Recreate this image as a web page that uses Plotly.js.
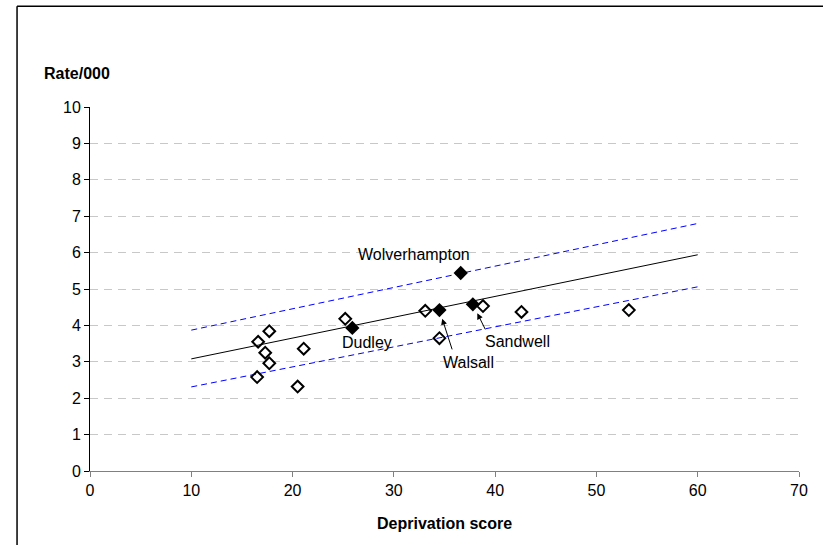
<!DOCTYPE html>
<html>
<head>
<meta charset="utf-8">
<script src="https://cdn.plot.ly/plotly-3.0.1.min.js"></script>
<style>html,body{margin:0;padding:0;background:#fff;}#chart{width:823px;height:545px;}</style>
</head>
<body>
<div id="chart"></div>
<script>
// Other areas (hollow diamonds)
const otherX = [16.6, 17.7, 17.3, 17.7, 16.5, 21.1, 20.5, 25.2, 33.1, 34.5, 38.8, 42.6, 53.2];
const otherY = [3.55, 3.84, 3.25, 2.96, 2.58, 3.36, 2.32, 4.18, 4.40, 3.65, 4.53, 4.37, 4.42];
// Black Country areas (filled diamonds)
const bcNames = ["Dudley", "Wolverhampton", "Walsall", "Sandwell"];
const bcX = [25.9, 36.6, 34.5, 37.8];
const bcY = [3.93, 5.44, 4.42, 4.58];
// Trend line and limits
const trendX = [10, 60];
const trendY = [3.08, 5.94];
const upperY = [3.87, 6.80];
const lowerY = [2.31, 5.06];

const FONT = "Liberation Sans, Arial, sans-serif";

const traces = [
  {x: trendX, y: upperY, mode: "lines", line: {color: "#0000ff", width: 1, dash: "6px,4px"}, hoverinfo: "skip"},
  {x: trendX, y: lowerY, mode: "lines", line: {color: "#0000ff", width: 1, dash: "6px,4px"}, hoverinfo: "skip"},
  {x: trendX, y: trendY, mode: "lines", line: {color: "#000000", width: 1}, hoverinfo: "skip"},
  {x: otherX, y: otherY, mode: "markers", marker: {symbol: "diamond-open", size: 9, color: "#000", line: {width: 2, color: "#000"}}},
  {x: bcX, y: bcY, mode: "markers", text: bcNames, marker: {symbol: "diamond", size: 11, color: "#000", line: {width: 0}}}
];

const annFont = {family: FONT, size: 16, color: "#000"};
const annotations = [
  {x: bcX[1], y: bcY[1], text: bcNames[1], showarrow: false, xref: "x", yref: "y", xshift: -47, yshift: 18, font: annFont},
  {x: bcX[0], y: bcY[0], text: bcNames[0], showarrow: false, xref: "x", yref: "y", xshift: 15, yshift: -15, font: annFont},
  {x: bcX[2], y: bcY[2], text: "", showarrow: true, arrowhead: 2, arrowsize: 1.2, arrowwidth: 1, arrowcolor: "#000",
   axref: "x", ayref: "y", ax: 35.8, ay: 3.3, standoff: 9, xref: "x", yref: "y"},
  {x: 35.8, y: 3.3, text: bcNames[2], showarrow: false, xref: "x", yref: "y", xanchor: "left", yanchor: "top", xshift: -12, yshift: -1, font: annFont},
  {x: bcX[3], y: bcY[3], text: "", showarrow: true, arrowhead: 2, arrowsize: 1.2, arrowwidth: 1, arrowcolor: "#000",
   axref: "x", ayref: "y", ax: 39.1, ay: 3.85, standoff: 10, xref: "x", yref: "y"},
  {x: 39.1, y: 3.85, text: bcNames[3], showarrow: false, xref: "x", yref: "y", xanchor: "left", yanchor: "top", xshift: -3, yshift: 0, font: annFont},
  {x: 0, y: 1, xref: "paper", yref: "paper", text: "<b>Rate/000</b>", showarrow: false, xanchor: "right", yanchor: "middle", xshift: 22, yshift: 34, font: {family: FONT, size: 16, color: "#000"}},
  {x: 0.5, y: -0.1429, xref: "paper", yref: "paper", text: "<b>Deprivation score</b>", showarrow: false, xanchor: "center", yanchor: "middle", font: {family: FONT, size: 16, color: "#000"}}
];

const layout = {
  width: 823, height: 545,
  margin: {l: 90, r: 24, t: 107, b: 74},
  paper_bgcolor: "#fff", plot_bgcolor: "#fff",
  showlegend: false,
  font: {family: FONT, size: 16, color: "#000"},
  xaxis: {
    range: [0, 70], dtick: 10, tick0: 0, showgrid: false, zeroline: false,
    showline: true, linecolor: "#808080", linewidth: 1,
    ticks: "outside", ticklen: 5, tickcolor: "#808080",
    tickfont: {family: FONT, size: 16, color: "#000"}
  },
  yaxis: {
    range: [0, 10], dtick: 1, tick0: 0, showgrid: true, gridcolor: "#c8c8c8", griddash: "8px,6px", gridwidth: 1,
    zeroline: false, showline: true, linecolor: "#000", linewidth: 1,
    ticks: "outside", ticklen: 5, tickcolor: "#000",
    tickfont: {family: FONT, size: 16, color: "#000"}
  },
  annotations: annotations,
  shapes: [
    {type: "line", xref: "paper", yref: "paper", x0: -0.1029, x1: -0.1029, y0: -0.3, y1: 1.277, line: {color: "#000", width: 1.5}},
    {type: "line", xref: "paper", yref: "paper", x0: -0.1029, x1: 1.2, y0: 1.277, y1: 1.277, line: {color: "#000", width: 1.5}}
  ]
};

Plotly.newPlot("chart", traces, layout, {displayModeBar: false, staticPlot: true});
</script>
</body>
</html>
